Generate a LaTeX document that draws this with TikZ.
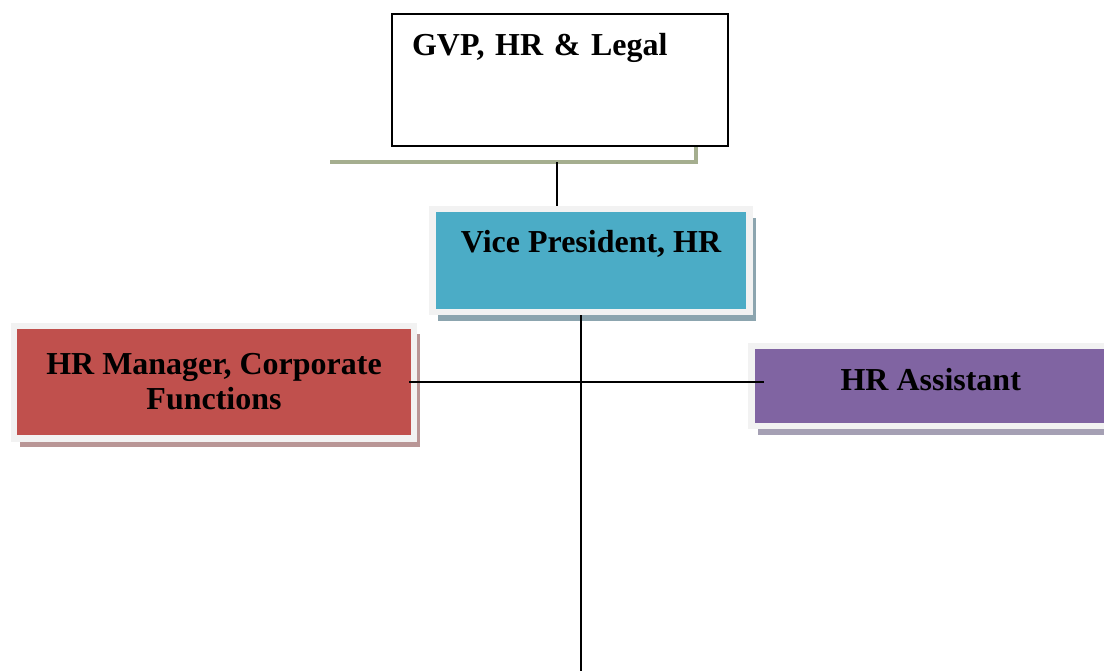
\documentclass[tikz,border=0pt]{standalone}
\usepackage{fontspec}
\setmainfont{Liberation Serif}
\usepackage{tikz}
\usetikzlibrary{positioning,calc,shadows}

\definecolor{vpfill}{RGB}{75,172,198}
\definecolor{mgrfill}{RGB}{192,80,77}
\definecolor{asstfill}{RGB}{128,100,162}
\definecolor{boxrim}{RGB}{242,242,242}
\definecolor{vpshade}{RGB}{140,165,175}
\definecolor{mgrshade}{RGB}{185,150,150}
\definecolor{asstshade}{RGB}{165,160,180}
\definecolor{railgreen}{RGB}{165,174,143}

\begin{document}
\begin{tikzpicture}[
        x=0.02cm, y=-0.02cm,
        every node/.style={font=\bfseries\fontsize{18.2}{19.9}\selectfont},
        headbox/.style={rectangle, draw=black, fill=white, line width=1.1pt, align=left, inner xsep=0.4cm, inner ysep=0pt},
        rolebox/.style={rectangle, draw=boxrim, line width=0.13cm, align=center, inner sep=0pt},
        link/.style={draw, line width=1.1pt},
        rail/.style={draw=railgreen, line width=2pt}
    ]
    \useasboundingbox (0,0) rectangle (1104,670);

    % Top box
    \node [headbox, minimum width=6.72cm, text width=5.92cm, text height=0.82cm, text depth=1.82cm] (gvp) at (560,80) {GVP, HR \& Legal};

    % Vice president
    \node [rolebox, fill=vpfill, minimum width=6.35cm, text height=0.86cm, text depth=1.2cm,
           drop shadow={shadow xshift=0.12cm, shadow yshift=-0.18cm, fill=vpshade, opacity=1}] (vp) at (591,260.5) {Vice President, HR};

    % Reports
    \node [rolebox, fill=mgrfill, minimum width=8cm, minimum height=2.25cm,
           drop shadow={shadow xshift=0.12cm, shadow yshift=-0.17cm, fill=mgrshade, opacity=1}] (mgr) at (214,382) {HR Manager, Corporate\\Functions};
    \node [rolebox, fill=asstfill, minimum width=7.17cm, text height=0.88cm, text depth=0.72cm,
           drop shadow={shadow xshift=0.12cm, shadow yshift=-0.18cm, fill=asstshade, opacity=1}] (asst) at (930.75,386) {HR Assistant};

    % Connections
    \coordinate (railL) at (330,162);
    \coordinate (tap) at (557,162);
    \coordinate (stem) at (581,672);
    \path [rail] (railL) -| ($(gvp.south east)+(-33,0)$);
    \path [link] (tap) -- (tap |- vp.north);
    \path [link] (vp.south -| stem) -- (stem);
    \path [link] ([xshift=-0.16cm]mgr.east) -- ([xshift=0.31cm]mgr.east -| asst.west);

\end{tikzpicture}
\end{document}
